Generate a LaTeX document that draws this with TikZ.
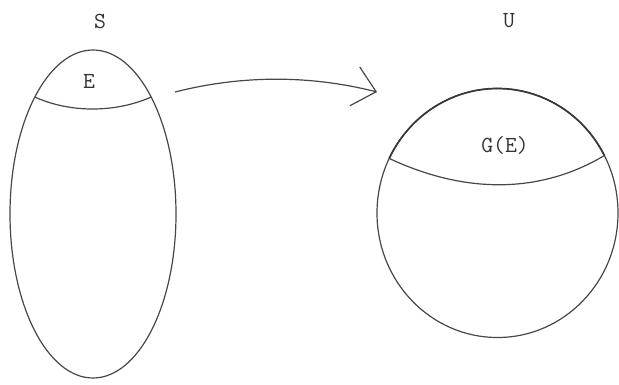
\documentclass[tikz,border=0pt]{standalone}
\usetikzlibrary{arrows.meta,shapes.geometric}
\begin{document}
\begin{tikzpicture}[x=1pt,y=-1pt,
  ln/.style={draw=black!72,line width=1.2pt},
  lbl/.style={font=\fontsize{23}{26}\selectfont\ttfamily,text=black!80,inner sep=0pt}]
\useasboundingbox (0,0) rectangle (619,385);
% set S
\node[ln,ellipse,minimum width=166pt,minimum height=328pt,inner sep=0pt] (S) at (93,214) {};
\coordinate (sl) at ([shift={(93,214)}]134.5:83pt and 164pt);
\coordinate (sr) at ([shift={(93,214)}]45.5:83pt and 164pt);
\draw[ln] (sl) .. controls (70,113) and (115,113) .. (sr);
% set U
\node[ln,ellipse,minimum width=241pt,minimum height=249pt,inner sep=0pt] (U) at (497.5,213) {};
\coordinate (ul) at ([shift={(497.5,213)}]154:120.5pt and 124.5pt);
\coordinate (ur) at ([shift={(497.5,213)}]27.5:120.5pt and 124.5pt);
\draw[draw=black!78,line width=1.7pt] (ur) arc[start angle=27.5,end angle=154,x radius=120.5pt,y radius=124.5pt];
\draw[ln] (ul) .. controls (465,194) and (540,194) .. (ur);
% labels
\node[lbl] (Slab) at (100,21) {S};
\node[lbl] (Elab) at (89,81) {E};
\node[lbl] (Ulab) at (509,21) {U};
\node[lbl] (GElab) at (505,145) {G(E)};
% arrow
\coordinate (a0) at (175,92);
\coordinate (a1) at (377,92);
\draw[ln,-{Straight Barb[length=22pt,width=40pt,line width=1.2pt]}] (a0) .. controls (242,75) and (310,75) .. (a1);
\end{tikzpicture}
\end{document}
